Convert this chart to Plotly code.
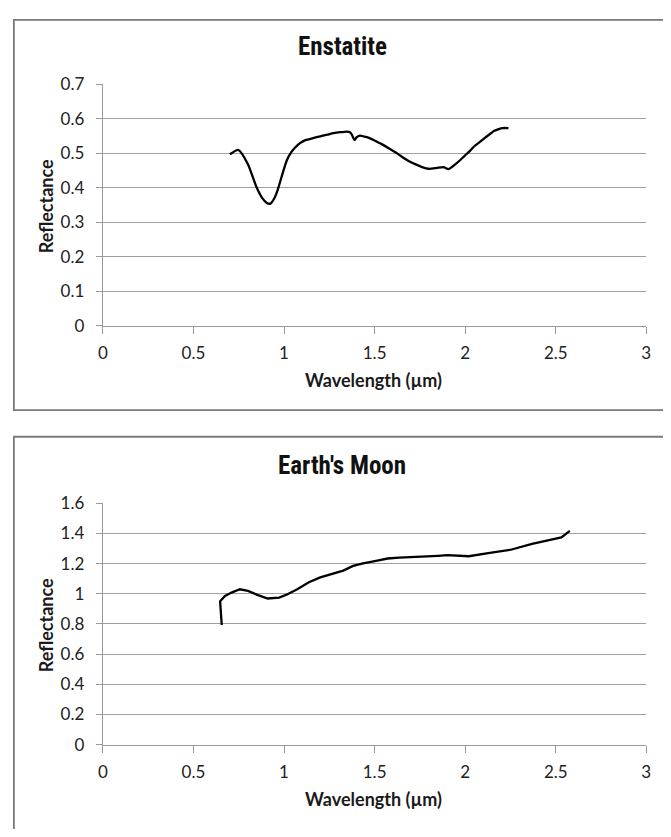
import plotly.graph_objects as go

# Enstatite spectrum
ens_wavelength = [0.701, 0.747, 0.800, 0.847, 0.880, 0.905, 0.925, 0.945, 0.965, 0.990, 1.015, 1.040,
                  1.064, 1.090, 1.118, 1.160, 1.200, 1.240, 1.273, 1.310, 1.345, 1.360, 1.372, 1.382,
                  1.390, 1.400, 1.418, 1.445, 1.472, 1.500, 1.526, 1.544, 1.580, 1.617, 1.650, 1.690,
                  1.730, 1.762, 1.798, 1.840, 1.880, 1.907, 1.943, 1.970, 1.998, 2.025, 2.052, 2.080,
                  2.107, 2.135, 2.161, 2.185, 2.206, 2.239]
ens_reflectance = [0.497, 0.510, 0.469, 0.403, 0.370, 0.356, 0.354, 0.368, 0.394, 0.438, 0.479, 0.503,
                   0.518, 0.530, 0.538, 0.544, 0.549, 0.554, 0.558, 0.561, 0.563, 0.562, 0.556, 0.545,
                   0.538, 0.546, 0.551, 0.548, 0.544, 0.537, 0.530, 0.525, 0.514, 0.502, 0.490, 0.477,
                   0.467, 0.460, 0.455, 0.457, 0.460, 0.454, 0.467, 0.479, 0.493, 0.506, 0.521, 0.532,
                   0.544, 0.555, 0.565, 0.570, 0.573, 0.573]

# Earth's Moon spectrum
moon_wavelength = [0.656, 0.647, 0.674, 0.710, 0.756, 0.801, 0.856, 0.910, 0.973, 1.019, 1.073, 1.137,
                   1.200, 1.273, 1.327, 1.381, 1.436, 1.508, 1.572, 1.635, 1.710, 1.787, 1.850, 1.903,
                   2.020, 2.136, 2.252, 2.369, 2.461, 2.531, 2.578]
moon_reflectance = [0.793, 0.950, 0.986, 1.008, 1.030, 1.019, 0.991, 0.969, 0.975, 0.997, 1.030, 1.077,
                    1.109, 1.133, 1.154, 1.185, 1.202, 1.219, 1.234, 1.240, 1.243, 1.245, 1.252, 1.256,
                    1.249, 1.271, 1.292, 1.331, 1.357, 1.374, 1.417]

x_ticks = [0, 0.5, 1, 1.5, 2, 2.5, 3]
x_ticklabels = ["0", "0.5", "1", "1.5", "2", "2.5", "3"]
ens_yticks = [0, 0.1, 0.2, 0.3, 0.4, 0.5, 0.6, 0.7]
ens_yticklabels = ["0", "0.1", "0.2", "0.3", "0.4", "0.5", "0.6", "0.7"]
moon_yticks = [0, 0.2, 0.4, 0.6, 0.8, 1.0, 1.2, 1.4, 1.6]
moon_yticklabels = ["0", "0.2", "0.4", "0.6", "0.8", "1", "1.2", "1.4", "1.6"]

OFF = 8  # default page body margin
W, H = 671 - OFF, 837 - 2 * OFF   # figure reaches the right window edge, no vertical overflow

def px(x):
    return (x - OFF) / W
def py(y):
    return 1 - (y - OFF) / H

fig = go.Figure()
fig.add_trace(go.Scatter(x=ens_wavelength, y=ens_reflectance, mode="lines",
                         line=dict(color="black", width=2.3, shape="spline", smoothing=0.6),
                         xaxis="x", yaxis="y", showlegend=False, hoverinfo="skip"))
fig.add_trace(go.Scatter(x=moon_wavelength, y=moon_reflectance, mode="lines",
                         line=dict(color="black", width=2.3),
                         xaxis="x2", yaxis="y2", showlegend=False, hoverinfo="skip"))

tick_font = dict(family="Lato, Carlito, Calibri, sans-serif", size=17, color="#222222")
title_font = dict(family="Lato, Carlito, Calibri, sans-serif", size=18, color="#1a1a1a")
grid_col = "#a0a0a0"
axis_col = "#9a9a9a"

xdom = [px(99.3), px(651)]

def xaxis(anchor):
    return dict(domain=xdom, range=[0, 3], tickvals=x_ticks, ticktext=x_ticklabels,
                showgrid=False, zeroline=False, showline=True, linecolor=axis_col, linewidth=1.4,
                ticks="outside", ticklen=7, tickcolor=axis_col, tickwidth=1.4,
                ticklabelstandoff=5,
                tickfont=tick_font, anchor=anchor, fixedrange=True)

def yaxis(anchor, dom, rng, tv, tt):
    return dict(domain=dom, range=rng, tickvals=tv, ticktext=tt,
                showgrid=True, gridcolor=grid_col, gridwidth=1.4,
                zeroline=False, showline=True, linecolor=axis_col, linewidth=1.4,
                ticks="outside", ticklen=6, tickcolor=axis_col, tickwidth=1.4,
                ticklabelstandoff=8,
                tickfont=tick_font, anchor=anchor, fixedrange=True)

fig.update_layout(
    width=W, height=H,
    margin=dict(l=0, r=0, t=0, b=0),
    paper_bgcolor="white", plot_bgcolor="white",
    xaxis=xaxis("y"),
    yaxis=yaxis("x", [py(322.7), py(75)], [0, 0.7], ens_yticks, ens_yticklabels),
    xaxis2=xaxis("y2"),
    yaxis2=yaxis("x2", [py(752.7), py(505)], [0, 1.6], moon_yticks, moon_yticklabels),
)

# panel borders
border = dict(color="#7a7a7a", width=1.8)
fig.add_shape(type="rect", xref="paper", yref="paper", x0=px(8.9), x1=px(700),
              y0=py(409.3), y1=py(8.9), line=border, fillcolor="rgba(0,0,0,0)")
fig.add_shape(type="rect", xref="paper", yref="paper", x0=px(8.9), x1=px(700),
              y0=py(880), y1=py(436.7), line=border, fillcolor="rgba(0,0,0,0)")

head_font = dict(family="Liberation Sans Narrow, Arial Narrow, Roboto Condensed, Roboto, sans-serif",
                 size=25, color="#111111")
annos = [
    dict(text="<b>Enstatite</b>", x=px(343), y=py(36.7), font=head_font),
    dict(text="<b>Earth's Moon</b>", x=px(342), y=py(466.7), font=head_font),
    dict(text="<b>Wavelength (µm)</b>", x=px(374), y=py(378), font=title_font),
    dict(text="<b>Wavelength (µm)</b>", x=px(374), y=py(808), font=title_font),
    dict(text="<b>Reflectance</b>", x=px(41.7), y=py(200), font=title_font, textangle=-90),
    dict(text="<b>Reflectance</b>", x=px(41.7), y=py(630), font=title_font, textangle=-90),
]
for a in annos:
    fig.add_annotation(xref="paper", yref="paper", showarrow=False,
                       xanchor="center", yanchor="middle", **a)

fig.write_html("out.html")
